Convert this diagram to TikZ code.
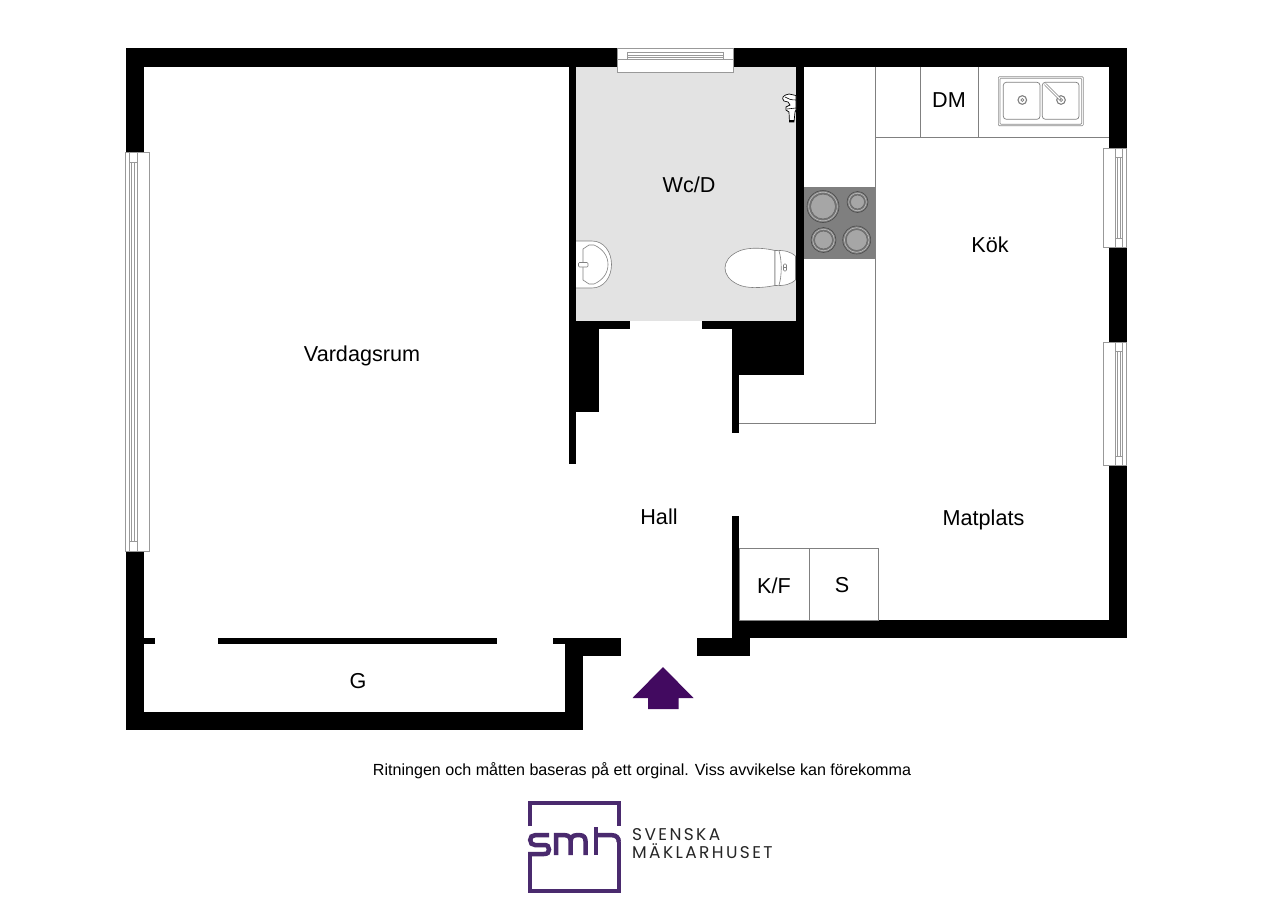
\documentclass[tikz,border=0pt]{standalone}
\usepackage{fontspec}
\setmainfont{Liberation Sans}
\newfontfamily\logofont[LetterSpace=14]{Poppins}
\definecolor{smhpurple}{HTML}{4A2A6E}
\definecolor{arrowpurple}{HTML}{420A60}
\definecolor{roomgray}{HTML}{E3E3E3}
\definecolor{stovegray}{HTML}{7F7F7F}
\definecolor{linegray}{HTML}{808080}
\tikzset{
  wallfill/.style={fill=black,draw=none},
  fitline/.style={draw=linegray,line width=0.9pt,fill=none},
  winline/.style={draw=gray!80,line width=0.6pt,fill=white},
  roomlabel/.style={font=\fontsize{21.6}{26}\selectfont,text=black,inner sep=0pt,anchor=base},
  burner/.style={draw=black!70,fill=black!50,line width=0.6pt},
  fixture/.style={draw=black!50,fill=white,line width=0.6pt},
  logostroke/.style={draw=smhpurple,line width=4.5pt,line cap=butt,line join=miter},
  logotext/.style={font=\logofont\fontsize{17}{19}\selectfont,text=black!85,anchor=base west,inner sep=0pt}
}
\begin{document}
\begin{tikzpicture}[x=1pt,y=-1pt]
\useasboundingbox (0,0) rectangle (1280,905);
\fill[white] (0,0) rectangle (1280,905);
% wc floor
\fill[roomgray] (576,66.5) rectangle (796,321);
% outer walls: top
\fill[wallfill] (125.5,48) rectangle (1126.5,66.5);
% left wall
\fill[wallfill] (125.5,48) rectangle (143.5,152);
\fill[wallfill] (125.5,551) rectangle (143.5,730);
% garage bottom
\fill[wallfill] (125.5,712) rectangle (582.5,730);
\fill[wallfill] (564.5,637.5) rectangle (582.5,730);
\fill[wallfill] (564.5,637.5) rectangle (620.5,656);
% garage door line
\fill[wallfill] (143,637.5) rectangle (154.5,643.5);
\fill[wallfill] (217.7,637.5) rectangle (496.5,643.5);
\fill[wallfill] (553,637.5) rectangle (565,643.5);
% right wall
\fill[wallfill] (1108.5,48) rectangle (1126.5,148);
\fill[wallfill] (1108.5,247) rectangle (1126.5,342);
\fill[wallfill] (1108.5,465) rectangle (1126.5,637.5);
% lower kitchen wall
\fill[wallfill] (731.5,620) rectangle (1126.5,637.5);
\fill[wallfill] (697,637.5) rectangle (749.5,656);
\fill[wallfill] (731.5,515.5) rectangle (739,637.5);
% wc walls
\fill[wallfill] (568.5,48) rectangle (576,464);
\fill[wallfill] (796,48) rectangle (803.5,375);
\fill[wallfill] (568.5,321) rectangle (630,329);
\fill[wallfill] (702,321) rectangle (803.5,329);
\fill[wallfill] (568.5,321) rectangle (599,412);
\fill[wallfill] (731.5,321) rectangle (803.5,375);
\fill[wallfill] (731.5,321) rectangle (739,433);
% top window
\draw[winline] (617.5,48.5) rectangle (733.5,72);
\draw[winline,fill=none] (617.5,59.5) -- (733.5,59.5);
\draw[winline,fill=none] (627.5,52.5) rectangle (723.5,59.5);
\draw[winline,fill=none] (627.5,55) -- (723.5,55);
\draw[winline,fill=none] (627.5,57) -- (723.5,57);
% left window
\draw[winline] (125.5,152) rectangle (149,551);
\draw[winline,fill=none] (137,152) -- (137,551);
\draw[winline,fill=none] (129,152) rectangle (137,551);
\draw[winline,fill=none] (131.5,162) -- (131.5,541);
\draw[winline,fill=none] (134.5,162) -- (134.5,541);
\draw[winline,fill=none] (129,162) -- (137,162);
\draw[winline,fill=none] (129,541) -- (137,541);
% right windows
\foreach \ya/\yb in {148/247,342/465}{
  \draw[winline] (1103.5,\ya) rectangle (1126.5,\yb);
  \draw[winline,fill=none] (1115,\ya) -- (1115,\yb);
  \draw[winline,fill=none] (1115,\ya) rectangle (1122.5,\yb);
  \draw[winline,fill=none] (1117.5,\ya+9) -- (1117.5,\yb-9);
  \draw[winline,fill=none] (1120,\ya+9) -- (1120,\yb-9);
  \draw[winline,fill=none] (1115,\ya+9) -- (1122.5,\ya+9);
  \draw[winline,fill=none] (1115,\yb-9) -- (1122.5,\yb-9);
}
% kitchen fittings
\draw[fitline] (875,66.5) -- (875,423) -- (739,423);
\draw[fitline] (875,137) -- (1108.5,137);
\draw[fitline] (920,66.5) -- (920,137);
\draw[fitline] (978,66.5) -- (978,137);
\draw[fitline] (739,548) rectangle (878,620);
\draw[fitline] (809,548) -- (809,620);
% stove
\fill[stovegray] (803.5,186.5) rectangle (875,258.5);
\foreach \cx/\cy/\r in {823/206.5/16,857.5/202/10.5,823.5/240/12.5,856.7/240/14}{
  \draw[burner] (\cx,\cy) circle (\r);
  \draw[draw=black!25,fill=black!55,line width=0.6pt] (\cx,\cy) circle (\r-1.7);
  \draw[draw=black!60,fill=black!35,line width=0.5pt] (\cx,\cy) circle (\r-3.6);
}
% sink
\draw[draw=black!45,line width=0.6pt,rounded corners=1pt] (998.3,76.7) rectangle (1083.3,125.7);
\draw[draw=black!45,line width=0.6pt,rounded corners=1pt] (1000,78.2) rectangle (1081.7,124.2);
\draw[draw=black!50,line width=0.7pt,rounded corners=3pt] (1003.3,82.3) rectangle (1040,119.3);
\draw[draw=black!50,line width=0.7pt,rounded corners=3pt] (1042.3,82.3) rectangle (1079,119.3);
\draw[draw=black!50,line width=1.1pt] (1022.3,100) circle (4.3);
\draw[draw=black!50,line width=0.7pt] (1022.3,100) circle (1.5);
\draw[draw=black!50,line width=1.1pt] (1061,100) circle (4.3);
\draw[draw=black!50,line width=0.7pt] (1061,100) circle (1.5);
\draw[draw=black!50,line width=2.6pt,line cap=round] (1045.5,84.5) -- (1060,99);
\draw[draw=white,line width=1.2pt,line cap=round] (1045.5,84.5) -- (1060,99);
% wc fixtures: sink
\draw[fixture] (576,241) -- (592,241) .. controls (604,241) and (611.5,252) .. (611.5,264.5) .. controls (611.5,277) and (604,288) .. (592,288) -- (576,288);
\draw[fixture] (589,245) -- (594,245) .. controls (603,249) and (608,256) .. (608,264.5) .. controls (608,273) and (603,280) .. (594,284) -- (589,284) -- (583,280) -- (583,249) -- cycle;
\draw[fixture,rounded corners=1pt] (578.5,262.5) rectangle (588,267);
% toilet
\draw[fixture] (775,250.5) .. controls (760,247) and (745,247.5) .. (737,252) .. controls (729,256) and (725,262) .. (725,268) .. controls (725,274) and (729,280) .. (737,284) .. controls (745,288.5) and (760,288.5) .. (775,285.5) -- cycle;
\draw[fixture] (775,250.5) .. controls (785,250) and (791,252) .. (795.5,256) -- (795.5,280) .. controls (791,284) and (785,286) .. (775,285.5) -- cycle;
\draw[fixture,fill=none] (779,251) .. controls (782,260) and (782,276) .. (779,285);
\draw[fixture,rounded corners=1pt] (783.5,264) rectangle (786.5,271);
\draw[fixture] (783.5,267.5) -- (786.5,267.5);
% tap
\draw[draw=black,fill=white,line width=0.7pt] (796,95.5) -- (789,94) .. controls (783,95) and (781,98) .. (784,101) -- (788,102) -- (790,105) -- (786,107) -- (786,110) -- (789,112) -- (789.5,122) -- (794,122) -- (795,112) -- (796,110) -- cycle;
\draw[draw=black,line width=0.6pt] (785,97) .. controls (788,99) and (791,100) .. (796,100);
\draw[draw=black,line width=0.6pt] (787,109) -- (796,108);
\fill[black] (789.5,119.5) rectangle (794,122);
% room labels
\node[roomlabel] (vardagsrum) at (362,361.5) {Vardagsrum};
\node[roomlabel] (wcd) at (689,192.5) {Wc/D};
\node[roomlabel] (kok) at (990,252) {Kök};
\node[roomlabel] (hall) at (659,524) {Hall};
\node[roomlabel] (matplats) at (983.5,525) {Matplats};
\node[roomlabel] (dm) at (949,107.5) {DM};
\node[roomlabel] (kf) at (774,593) {K/F};
\node[roomlabel] (s) at (842,592) {S};
\node[roomlabel] (g) at (358,688.5) {G};
% entrance arrow
\fill[arrowpurple] (663,667) -- (693.5,698) -- (678.5,698) -- (678.5,709) -- (648,709) -- (648,698) -- (632.5,698) -- cycle;
% note
\node[font=\fontsize{16.1}{19}\selectfont,inner sep=0pt] (note) at (642,771) {Ritningen och måtten baseras på ett orginal. Viss avvikelse kan förekomma};
% logo: frame
\draw[logostroke] (530.2,826) -- (530.2,802.9) -- (618.8,802.9) -- (618.8,826);
\draw[logostroke] (530.2,854) -- (530.2,890.8) -- (618.8,890.8) -- (618.8,842);
% logo: s
\draw[logostroke] (549,835.2) -- (535,835.2) .. controls (532,835.2) and (530.2,837) .. (530.2,840) .. controls (530.2,843) and (532,845) .. (535,845) -- (544,845) .. controls (547.5,845) and (549,846.5) .. (549,849.5) .. controls (549,852.5) and (547.5,854) .. (544,854) -- (528,854);
% logo: m
\draw[logostroke] (556,855) -- (556,835.2) -- (565,835.2) .. controls (568.5,835.2) and (570.7,837.5) .. (570.7,841) -- (570.7,855);
\draw[logostroke] (570.7,841) .. controls (570.7,837.5) and (573,835.2) .. (576.5,835.2) -- (580,835.2) .. controls (583.5,835.2) and (585.5,837.5) .. (585.5,841) -- (585.5,855);
% logo: h
\draw[logostroke] (596,827) -- (596,855);
\draw[logostroke] (596,835.2) -- (612,835.2) .. controls (616.5,835.2) and (618.8,838) .. (618.8,842);
\node[logotext] (svenska) at (632,840) {SVENSKA};
\node[logotext] (maklar) at (632,858.5) {MÄKLARHUSET};
\end{tikzpicture}
\end{document}
